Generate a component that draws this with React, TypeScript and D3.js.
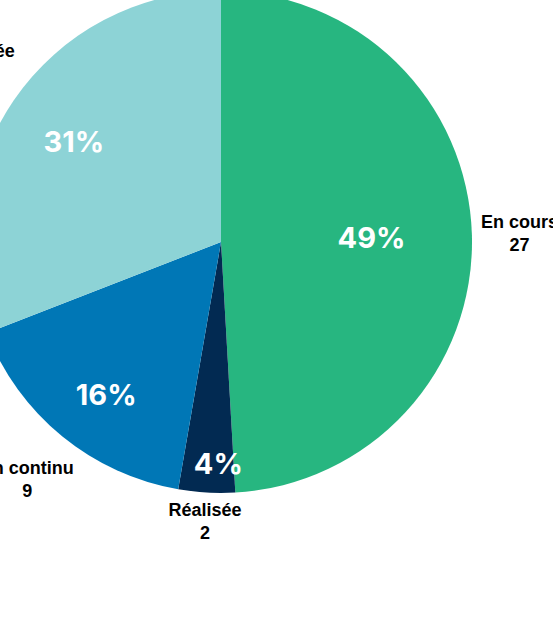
import React from "react";
import * as d3 from "d3";

const categories = ["En cours", "Réalisée", "En continu", "Non amorcée"];
const values = [27, 2, 9, 17];
const colors = ["#27b680", "#022a52", "#0077b6", "#8dd3d6"];

// layout factors (relative to radius) and small nudges
const pctRadius = [0.6, 0.885, 0.76, 0.71];
const pctNudgeX = [0, 10, 6, 0];
const pctNudgeY = [0, 0, 5, 0];
const nameRadius = [1.19, 1.115, 1.22, 1.27];

const W = 553;
const H = 643;
const cx = 221;
const cy = 242;
const R = 251;

export default function App() {
  const total = d3.sum(values);
  const pie = d3.pie<number>().sort(null).value((d) => d)(values);
  const arc = d3.arc<d3.PieArcDatum<number>>().innerRadius(0).outerRadius(R);
  const pos = (a: d3.PieArcDatum<number>, r: number) => {
    const m = (a.startAngle + a.endAngle) / 2;
    return [Math.sin(m) * r, -Math.cos(m) * r];
  };
  return (
    <svg
      width={W}
      height={H}
      style={{ position: "absolute", left: 0, top: 0, background: "#fff" }}
    >
      <g transform={`translate(${cx},${cy})`}>
        {pie.map((a, i) => (
          <path key={i} d={arc(a) || ""} fill={colors[i]} />
        ))}
        {pie.map((a, i) => {
          const [x, y] = pos(a, R * pctRadius[i]);
          return (
            <text
              key={"p" + i}
              x={x + pctNudgeX[i]}
              y={y + pctNudgeY[i]}
              textAnchor="middle"
              dominantBaseline="central"
              fill="#fff"
              fontFamily="Inter, Roboto, sans-serif"
              fontWeight={700}
              fontSize={29}
            >
              {Math.round((values[i] / total) * 100)}%
            </text>
          );
        })}
        {pie.map((a, i) => {
          const [x, y] = pos(a, R * nameRadius[i]);
          return (
            <text
              key={"n" + i}
              x={x}
              y={y}
              textAnchor="middle"
              fill="#000"
              fontFamily="'Liberation Sans', Arial, sans-serif"
              fontWeight={700}
              fontSize={18}
            >
              <tspan x={x} dy={-5}>
                {categories[i]}
              </tspan>
              <tspan x={x} dy={23}>
                {values[i]}
              </tspan>
            </text>
          );
        })}
      </g>
    </svg>
  );
}
